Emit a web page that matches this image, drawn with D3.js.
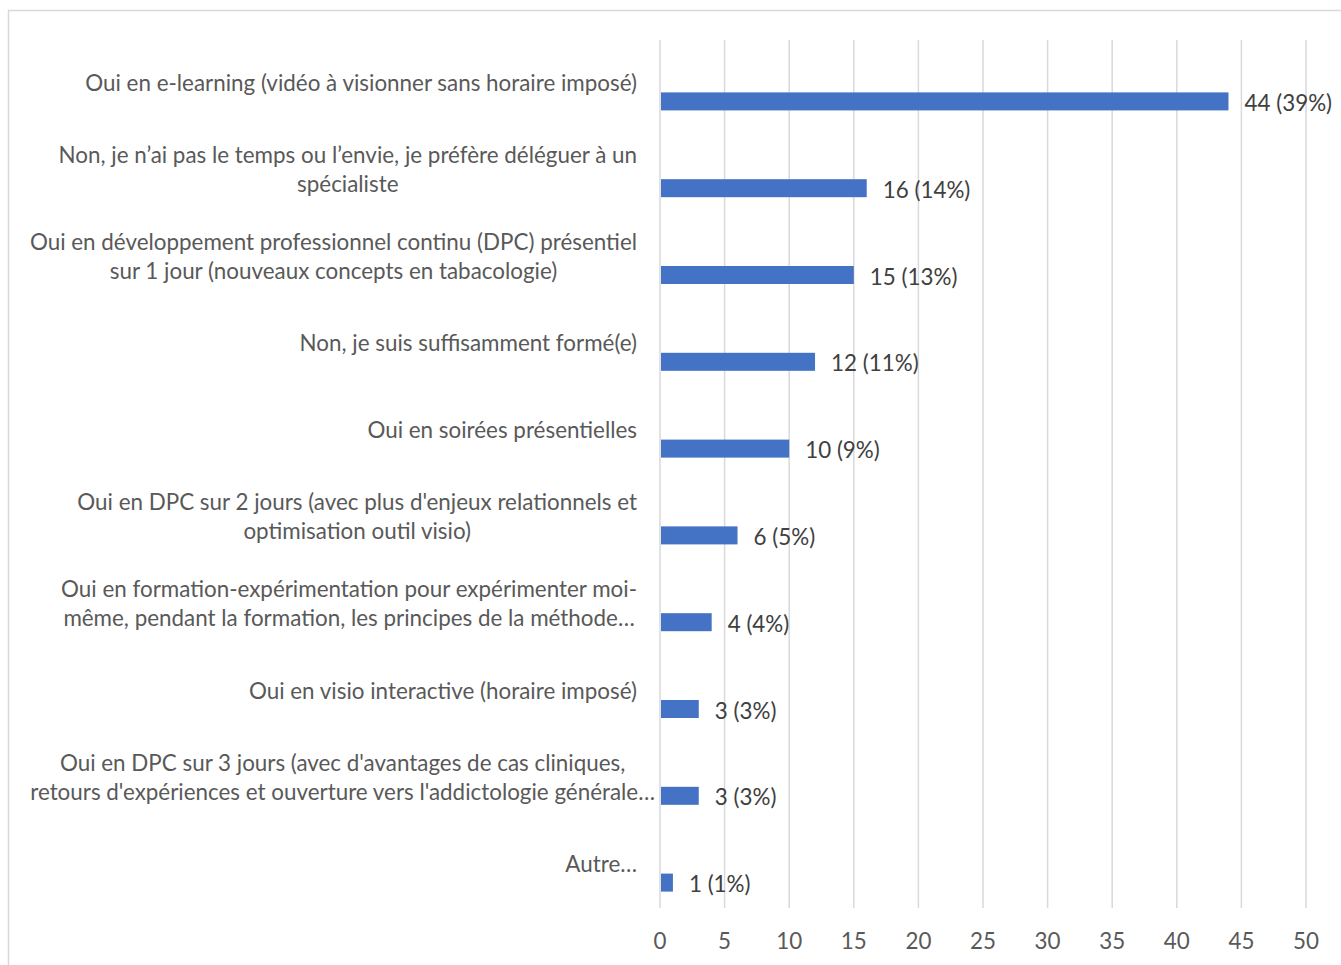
<!DOCTYPE html>
<html><head><meta charset="utf-8">
<script src="https://cdn.jsdelivr.net/npm/d3@7"></script>
<style>body{margin:0;background:#fff}svg{display:block}</style>
</head><body>
<script>
const categories = [
  ["Oui en e-learning (vidéo à visionner sans horaire imposé)"],
  ["Non, je n’ai pas le temps ou l’envie, je préfère déléguer à un", "spécialiste"],
  ["Oui en développement professionnel continu (DPC) présentiel", "sur 1 jour (nouveaux concepts en tabacologie)"],
  ["Non, je suis suffisamment formé(e)"],
  ["Oui en soirées présentielles"],
  ["Oui en DPC sur 2 jours (avec plus d'enjeux relationnels et", "optimisation outil visio)"],
  ["Oui en formation-expérimentation pour expérimenter moi-", "même, pendant la formation, les principes de la méthode…"],
  ["Oui en visio interactive (horaire imposé)"],
  ["Oui en DPC sur 3 jours (avec d'avantages de cas cliniques,", "retours d'expériences et ouverture vers l'addictologie générale…"],
  ["Autre…"]
];
const values = [44, 16, 15, 12, 10, 6, 4, 3, 3, 1];
const percents = [39, 14, 13, 11, 9, 5, 4, 3, 3, 1];
const ticks = [0, 5, 10, 15, 20, 25, 30, 35, 40, 45, 50];

const W = 1341, H = 965;
const FONT = "Lato, 'Open Sans', sans-serif";
const FS = 22.4;
const svg = d3.select("body").append("svg").attr("width", W).attr("height", H);

svg.append("rect").attr("x", 8.5).attr("y", 10.5).attr("width", W + 10).attr("height", H + 10)
  .attr("fill", "#fff").attr("stroke", "#d9d9d9").attr("stroke-width", 1.5);

const x = d3.scaleLinear().domain([0, 50]).range([660, 1306]);
const y = d3.scaleBand().domain(d3.range(categories.length)).range([40, 908]);

// gridlines
svg.append("g").selectAll("line").data(ticks).join("line")
  .attr("x1", d => x(d)).attr("x2", d => x(d)).attr("y1", 40).attr("y2", 908)
  .attr("stroke", "#d9d9d9").attr("stroke-width", 1.5);

// tick labels
svg.append("g").selectAll("text").data(ticks).join("text")
  .attr("x", d => x(d)).attr("y", 940).attr("text-anchor", "middle").attr("dominant-baseline", "central")
  .attr("font-family", FONT).attr("font-size", FS).attr("fill", "#595959").text(d => d);

const barH = 18, barOff = 18;
svg.append("g").selectAll("rect").data(values).join("rect")
  .attr("x", x(0) + 1).attr("y", (d, i) => y(i) + y.bandwidth() / 2 + barOff - barH / 2)
  .attr("width", d => x(d) - x(0) - 1).attr("height", barH).attr("fill", "#4472C4");

svg.append("g").selectAll("text").data(values).join("text")
  .attr("x", d => x(d) + 16).attr("y", (d, i) => y(i) + y.bandwidth() / 2 + barOff + 1)
  .attr("dominant-baseline", "central")
  .attr("font-family", FONT).attr("font-size", FS).attr("fill", "#404040")
  .text((d, i) => `${d} (${percents[i]}%)`);

// category labels
const lineH = 29;
categories.forEach((lines, i) => {
  const g = svg.append("g");
  const cy = y(i) + y.bandwidth() / 2 - 1;
  const texts = lines.map((t, j) => g.append("text")
    .attr("y", cy + (j - (lines.length - 1) / 2) * lineH)
    .attr("dominant-baseline", "central").attr("text-anchor", "middle")
    .attr("font-family", FONT).attr("font-size", FS).attr("fill", "#595959").text(t));
  const widths = texts.map(t => t.node().getComputedTextLength());
  const maxW = d3.max(widths);
  const maxLine = lines[widths.indexOf(maxW)];
  const right = (lines.length > 1 && maxLine.endsWith("…")) ? 655 : 637;
  texts.forEach(t => t.attr("x", right - maxW / 2));
});
</script>
</body></html>
